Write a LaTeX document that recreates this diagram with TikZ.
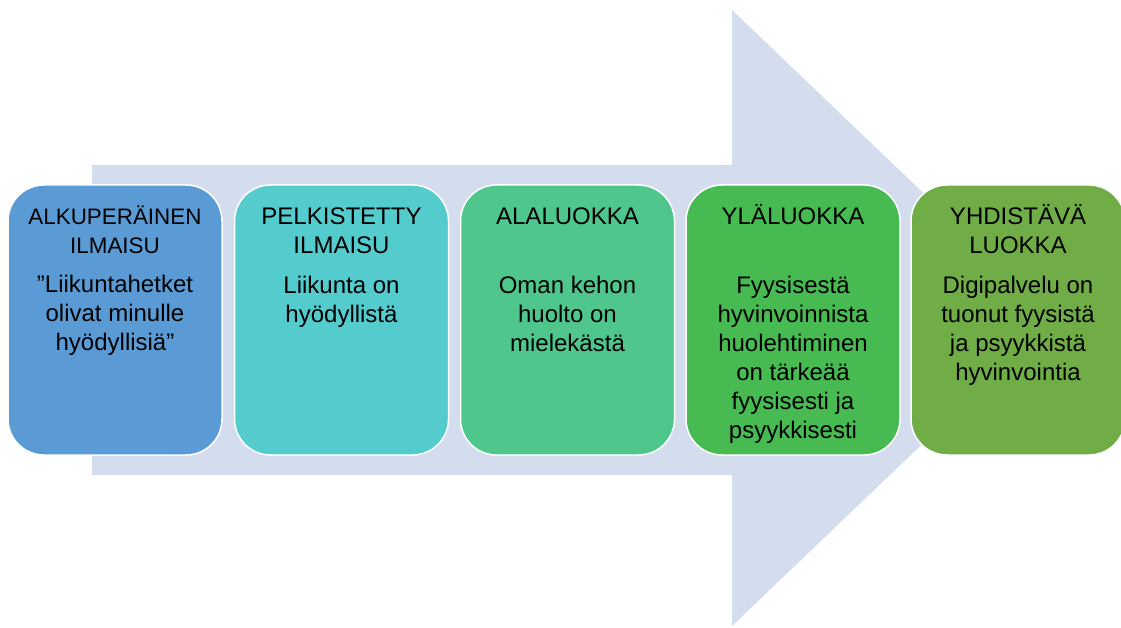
\documentclass[tikz,border=0pt]{standalone}
\usepackage{fontspec}
\setmainfont{Liberation Sans}
\definecolor{arrowc}{HTML}{D3DDEE}
\definecolor{cA}{HTML}{5B9BD5}
\definecolor{cB}{HTML}{54CBCC}
\definecolor{cC}{HTML}{4EC68C}
\definecolor{cD}{HTML}{47BA52}
\definecolor{cE}{HTML}{70AD47}
\begin{document}
\begin{tikzpicture}[x=1pt,y=-1pt,
  stagebox/.style={draw=white, line width=1.5pt, rounded corners=36pt,
    minimum width=214pt, minimum height=270pt, inner sep=0pt},
  txt/.style={align=center, inner sep=0pt, anchor=base, text=black,
    font=\fontsize{24}{29}\selectfont}]
\useasboundingbox (0,0) rectangle (1121,628);
% big arrow
\fill[arrowc] (92,165) -- (732,165) -- (732,10) -- (1054,318)
  -- (732,626) -- (732,475) -- (92,475) -- cycle;
% boxes
\node[stagebox, fill=cA] (b1) at (115,320) {};
\node[stagebox, fill=cB] (b2) at (341.5,320) {};
\node[stagebox, fill=cC] (b3) at (567.5,320) {};
\node[stagebox, fill=cD] (b4) at (793,320) {};
\node[stagebox, fill=cE] (b5) at (1018,320) {};
% titles (anchor = baseline of last line)
\node[txt, font=\fontsize{22.4}{29}\selectfont] (t1) at (115,254) {ALKUPERÄINEN\\ILMAISU};
\node[txt] (t2) at (341.5,254) {PELKISTETTY\\ILMAISU};
\node[txt] (t3) at (567.5,225) {ALALUOKKA};
\node[txt] (t4) at (793,225) {YLÄLUOKKA};
\node[txt] (t5) at (1018,254) {YHDISTÄVÄ\\LUOKKA};
% bodies
\node[txt] (d1) at (115,350) {”Liikuntahetket\\olivat minulle\\hyödyllisiä”};
\node[txt] (d2) at (341.5,322) {Liikunta on\\hyödyllistä};
\node[txt] (d3) at (567.5,351) {Oman kehon\\huolto on\\mielekästä};
\node[txt] (d4) at (793,438) {Fyysisestä\\hyvinvoinnista\\huolehtiminen\\on tärkeää\\fyysisesti ja\\psyykkisesti};
\node[txt] (d5) at (1018,380) {Digipalvelu on\\tuonut fyysistä\\ja psyykkistä\\hyvinvointia};
\end{tikzpicture}
\end{document}
